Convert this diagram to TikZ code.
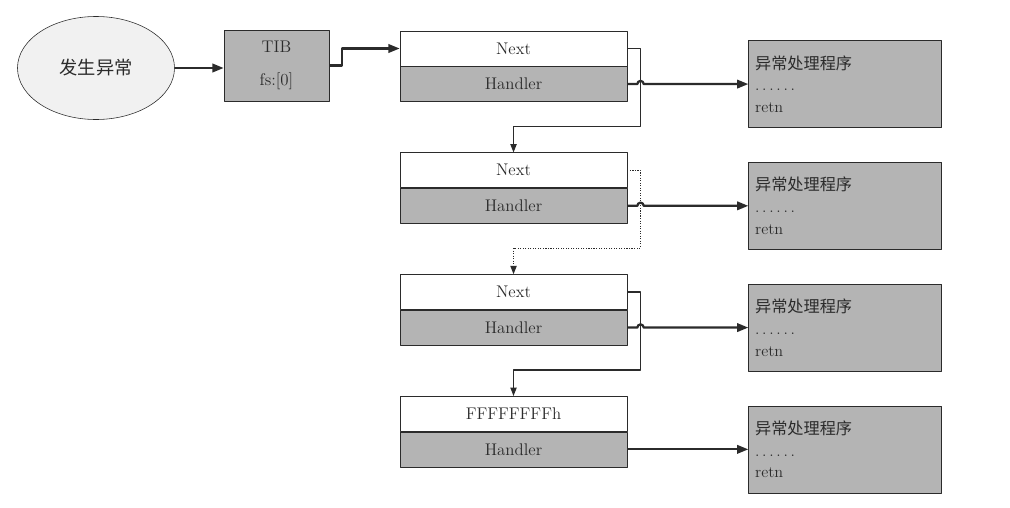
\documentclass[tikz,border=0pt]{standalone}
\usepackage{fontspec}
\newfontfamily\cjk{Noto Sans CJK SC}
\usetikzlibrary{arrows.meta,shapes.geometric,positioning}
\definecolor{cellgray}{HTML}{B4B4B4}
\definecolor{ovalgray}{HTML}{F1F1F1}
\definecolor{ink}{HTML}{2B2B2B}
\tikzset{
  every picture/.style={
    line join=round,
    >={Triangle[length=8pt,width=6pt]},
  },
  nextbox/.style={draw=ink, fill=white, text=ink, minimum width=5.675cm,
    minimum height=0.875cm, inner sep=0pt, font=\fontsize{12}{14}\selectfont},
  hdlbox/.style={nextbox, fill=cellgray},
  procbox/.style={draw=ink, fill=cellgray, text=ink, minimum width=4.825cm,
    minimum height=2.175cm, text width=4.5cm, align=left, inner xsep=0.15cm,
    font=\fontsize{11.5}{15.5}\selectfont},
  bigarrow/.style={->, draw=ink, line width=1.6pt},
  nextarrow/.style={->, draw=ink, line width=0.8pt, >={Triangle[length=6pt,width=4.5pt]}},
}
\begin{document}
\begin{tikzpicture}[x=0.025cm,y=-0.025cm]
\useasboundingbox (0,0) rectangle (1010,507);
\node[ellipse, draw=ink, fill=ovalgray, text=ink, minimum width=3.925cm, minimum height=2.575cm,
  font=\cjk\fontsize{13}{15}\selectfont] (occur) at (96,68) {发生异常};
\node[draw=ink, fill=cellgray, text=ink, minimum width=2.625cm, minimum height=1.775cm,
  align=center, font=\fontsize{12}{23}\selectfont] (tib) at (276.5,65.5) {TIB\\fs:[0]};
% the chain of records
\node[nextbox] (next1) at (513.5,48.5) {Next};
\node[hdlbox, below=0pt of next1] (hdl1) {Handler};
\foreach \t [count=\i from 2] in {Next,Next,FFFFFFFFh}{
  \pgfmathtruncatemacro\j{\i-1}
  \node[nextbox, below=1.265cm of hdl\j] (next\i) {\t};
  \node[hdlbox, below=0pt of next\i] (hdl\i) {Handler};
}
\foreach \i in {1,...,4}
  \node[procbox, right=3.025cm of hdl\i] (proc\i) {{\cjk 异常处理程序}\\.\,.\,.\,.\,.\,.\\retn};
\draw[bigarrow] (occur.east) -- (occur.east -| tib.west);
\draw[bigarrow] (tib.east) -- ++(13,0) |- (next1.west);
% handler lines hop over the next links
\foreach \i in {1,2,3}
  \draw[bigarrow] (hdl\i.east) -- ++(10,0) arc[start angle=180,end angle=0,radius=0.08cm]
    -- (proc\i.west |- hdl\i.east);
\draw[bigarrow] (hdl4.east) -- (proc4.west);
\foreach \i/\s in {2/solid,3/densely dotted,4/solid}{
  \pgfmathtruncatemacro\j{\i-1}
  \draw[nextarrow,\s] (next\j.east) -- ++(13,0) |- ([yshift=0.65cm]next\i.north) -- (next\i.north);
}
\end{tikzpicture}
\end{document}
